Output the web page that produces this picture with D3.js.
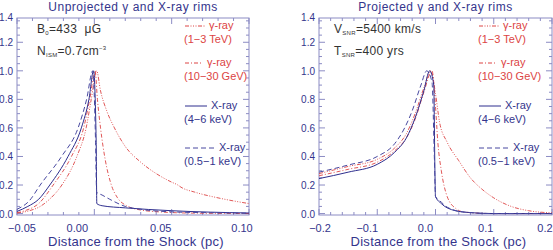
<!DOCTYPE html>
<html>
<head>
<meta charset="utf-8">
<script src="https://cdn.jsdelivr.net/npm/d3@7"></script>
<style>
body { margin: 0; background: #fff; }
svg { display: block; font-family: "Liberation Sans", Arial, sans-serif; }
</style>
</head>
<body>
<svg id="chart" width="553" height="250"></svg>
<script>
// ---- data ----
// unprojected panel, x in pc
let unprojTeV = [[-0.05,0.004],[-0.042,0.02],[-0.035,0.05],[-0.029,0.1],[-0.021,0.2],[-0.0113,0.4],[-0.0053,0.6],[-0.002,0.8],[0.0015,1.0],[0.004,0.86],[0.008,0.72],[0.013,0.6],[0.02,0.47],[0.03,0.36],[0.04,0.28],[0.05,0.22],[0.054,0.2],[0.056,0.185],[0.065,0.15],[0.08,0.11],[0.1,0.07]];
let unprojGeV = [[-0.05,0.006],[-0.045,0.02],[-0.036,0.07],[-0.0266,0.2],[-0.0148,0.4],[-0.0069,0.6],[-0.003,0.8],[0.0005,1.0],[0.002,0.8],[0.004,0.6],[0.007,0.38],[0.011,0.2],[0.015,0.11],[0.02,0.06],[0.03,0.025],[0.045,0.01],[0.06,0.004],[0.1,0.0]];
let unprojX46 = [[-0.05,0.015],[-0.043,0.05],[-0.036,0.1],[-0.0288,0.2],[-0.017,0.4],[-0.0084,0.6],[-0.0035,0.8],[-0.0005,1.0],[0.0012,0.5],[0.0016,0.07],[0.005,0.055],[0.02,0.04],[0.05,0.02],[0.1,0.004]];
let unprojX051 = [[-0.05,0.03],[-0.042,0.09],[-0.035,0.2],[-0.0212,0.4],[-0.0105,0.6],[-0.005,0.8],[-0.001,1.0],[0.0008,0.5],[0.0015,0.15],[0.005,0.13],[0.01,0.1],[0.02,0.05],[0.03,0.03],[0.05,0.012],[0.07,0.007],[0.1,0.003]];
// projected panel
let projTeV = [[-0.2,0.28],[-0.15,0.33],[-0.1,0.38],[-0.07,0.46],[-0.05,0.56],[-0.035,0.7],[-0.02,0.88],[-0.008,1.0],[0.0,0.84],[0.007,0.64],[0.02,0.5],[0.04,0.37],[0.06,0.25],[0.08,0.17],[0.1,0.11],[0.13,0.05],[0.16,0.02],[0.2,0.005]];
let projGeV = [[-0.2,0.265],[-0.15,0.31],[-0.1,0.36],[-0.07,0.44],[-0.05,0.53],[-0.035,0.66],[-0.02,0.85],[-0.006,1.0],[0.0,0.75],[0.004,0.5],[0.01,0.3],[0.02,0.12],[0.035,0.035],[0.05,0.01],[0.1,0.0],[0.2,0.0]];
let projX46 = [[-0.2,0.245],[-0.15,0.29],[-0.1,0.345],[-0.07,0.43],[-0.05,0.53],[-0.035,0.67],[-0.02,0.86],[-0.01,1.0],[-0.003,0.9],[-0.001,0.3],[0.0,0.12],[0.01,0.07],[0.02,0.04],[0.05,0.01],[0.1,0.0],[0.2,0.0]];
let projX051 = [[-0.2,0.29],[-0.15,0.34],[-0.1,0.4],[-0.07,0.49],[-0.053,0.6],[-0.04,0.72],[-0.025,0.9],[-0.015,1.0],[-0.006,0.92],[-0.002,0.4],[0.0,0.12],[0.01,0.08],[0.02,0.045],[0.05,0.01],[0.1,0.0],[0.2,0.0]];

let yTickVals = [0.0, 0.2, 0.4, 0.6, 0.8, 1.0, 1.2, 1.4];
let unprojXTicks = [-0.05, 0.00, 0.05, 0.10];
let projXTicks = [-0.2, -0.1, 0.0, 0.1, 0.2];

let axisColor = "#8c8cc4", textColor = "#34348c", red = "#dc4444";
let blueSolid = "#2e2e8e", blueDash = "#4848a0";

let styles = {
  tev: {color: red, dash: "4,1.5,1,1.5,1,1.5,1,1.5", width: 0.9},
  gev: {color: red, dash: "4,2,1,2", width: 0.9},
  x46: {color: blueSolid, dash: null, width: 1},
  x051: {color: blueDash, dash: "5,3", width: 1}
};

// layout of each panel (label nudges follow the original figure)
let panels = [
  {left: 17, right: 249, xdom: [-0.05, 0.10], xticks: unprojXTicks, xminor: 0.01, fmt: d3.format(".2f"),
   labelDx: [5, -17, -11, -7],
   title: "Unprojected γ and X-ray rims",
   series: [["tev", unprojTeV], ["gev", unprojGeV], ["x46", unprojX46], ["x051", unprojX051]],
   legendX: 185, noteX: 37,
   notes: [["B", "0", "=433  μG", null], ["N", "ISM", "=0.7cm", "−3"]]},
  {left: 319, right: 552, xdom: [-0.2, 0.2], xticks: projXTicks, xminor: 0.02, fmt: d3.format(".1f"),
   labelDx: [1, -10, -10, -8, -7],
   title: "Projected γ and X-ray rims",
   series: [["tev", projTeV], ["gev", projGeV], ["x46", projX46], ["x051", projX051]],
   legendX: 479, noteX: 334,
   notes: [["V", "SNR", "=5400 km/s", null], ["T", "SNR", "=400 yrs", null]]}
];

let svg = d3.select("#chart");
let plotTop = 18, plotBottom = 215;

panels.forEach(function(p) {
  let x = d3.scaleLinear().domain(p.xdom).range([p.left, p.right]);
  let y = d3.scaleLinear().domain([-0.01, 1.37]).range([plotBottom, plotTop]);
  let g = svg.append("g");

  // box
  g.append("rect").attr("x", p.left).attr("y", plotTop)
    .attr("width", p.right - p.left).attr("height", plotBottom - plotTop)
    .attr("fill", "none").attr("stroke", axisColor).attr("stroke-width", 1);

  // minor + major ticks, drawn inward
  let xMinor = d3.range(p.xdom[0], p.xdom[1] + 1e-9, p.xminor);
  let yMinor = d3.range(0, 1.37, 0.05);
  let isMajor = d => p.xticks.some(t => Math.abs(t - d) < 1e-6);
  g.selectAll(".xt").data(xMinor).enter().append("line")
    .attr("x1", d => x(d)).attr("x2", d => x(d))
    .attr("y1", plotBottom).attr("y2", d => plotBottom - (isMajor(d) ? 6 : 3))
    .attr("stroke", axisColor);
  g.selectAll(".xtt").data(xMinor).enter().append("line")
    .attr("x1", d => x(d)).attr("x2", d => x(d))
    .attr("y1", plotTop).attr("y2", d => plotTop + (isMajor(d) ? 6 : 3))
    .attr("stroke", axisColor);
  g.selectAll(".yt").data(yMinor).enter().append("line")
    .attr("y1", d => y(d)).attr("y2", d => y(d))
    .attr("x1", p.left).attr("x2", (d, i) => p.left + (i % 4 == 0 ? 6 : 3))
    .attr("stroke", axisColor);
  g.selectAll(".ytr").data(yMinor).enter().append("line")
    .attr("y1", d => y(d)).attr("y2", d => y(d))
    .attr("x1", p.right).attr("x2", (d, i) => p.right - (i % 4 == 0 ? 6 : 3))
    .attr("stroke", axisColor);

  // tick labels
  g.selectAll(".xl").data(p.xticks).enter().append("text")
    .attr("x", (d, i) => x(d) + p.labelDx[i]).attr("y", plotBottom + 17)
    .attr("text-anchor", "middle").attr("font-size", 11).attr("fill", textColor)
    .text(d => p.fmt(d).replace("-", "−"));
  g.selectAll(".yl").data(yTickVals).enter().append("text")
    .attr("x", p.left - 4).attr("y", d => Math.max(y(d), plotTop - 1) + 4)
    .attr("text-anchor", "end").attr("font-size", 10).attr("fill", textColor)
    .text(d => d.toFixed(1));

  // titles
  g.append("text").attr("x", (p.left + p.right) / 2).attr("y", 11)
    .attr("text-anchor", "middle").attr("font-size", 12).attr("letter-spacing", 0.5)
    .attr("fill", textColor).text(p.title);
  g.append("text").attr("x", (p.left + p.right) / 2 + 3).attr("y", 246)
    .attr("text-anchor", "middle").attr("font-size", 13).attr("letter-spacing", 0.3)
    .attr("fill", textColor).text("Distance from the Shock (pc)");

  // curves
  let line = d3.line().x(d => x(d[0])).y(d => y(d[1])).curve(d3.curveMonotoneX);
  let clipId = "clip" + p.left;
  svg.append("clipPath").attr("id", clipId).append("rect")
    .attr("x", p.left).attr("y", plotTop).attr("width", p.right - p.left).attr("height", plotBottom - plotTop);
  g.append("g").attr("clip-path", "url(#" + clipId + ")")
    .selectAll("path").data(p.series).enter().append("path")
    .attr("d", d => line(d[1]))
    .attr("fill", "none")
    .attr("stroke", d => styles[d[0]].color)
    .attr("stroke-width", d => styles[d[0]].width)
    .attr("stroke-dasharray", d => styles[d[0]].dash);

  // annotations
  p.notes.forEach(function(n, i) {
    let t = g.append("text").attr("x", p.noteX).attr("y", 33 + i * 22)
      .attr("font-size", 12).attr("letter-spacing", 0.3).attr("fill", "#333")
      .attr("xml:space", "preserve");
    t.append("tspan").text(n[0]);
    t.append("tspan").attr("font-size", 6).attr("dy", 2).text(n[1]);
    t.append("tspan").attr("dy", -2).text(n[2]);
    if (n[3]) t.append("tspan").attr("font-size", 6).attr("dy", -5).text(n[3]);
  });

  // legend
  let leg = [
    {key: "tev", label: "γ-ray", sub: "(1−3 TeV)", y: 29, len: 20, color: red},
    {key: "gev", label: "γ-ray", sub: "(10−30 GeV)", y: 66, len: 18, color: red},
    {key: "x46", label: "X-ray", sub: "(4−6 keV)", y: 109, len: 22, color: textColor},
    {key: "x051", label: "X-ray", sub: "(0.5−1 keV)", y: 151, len: 30, color: textColor}
  ];
  leg.forEach(function(l) {
    let s = styles[l.key];
    g.append("line").attr("x1", p.legendX).attr("x2", p.legendX + l.len)
      .attr("y1", l.y - 3).attr("y2", l.y - 3)
      .attr("stroke", s.color).attr("stroke-width", 1).attr("stroke-dasharray", s.dash);
    g.append("text").attr("x", p.legendX + l.len + 4).attr("y", l.y)
      .attr("font-size", 11).attr("fill", l.color).text(l.label);
    g.append("text").attr("x", p.legendX - 1).attr("y", l.y + 14)
      .attr("font-size", 11).attr("fill", l.color).text(l.sub);
  });
});
</script>
</body>
</html>
